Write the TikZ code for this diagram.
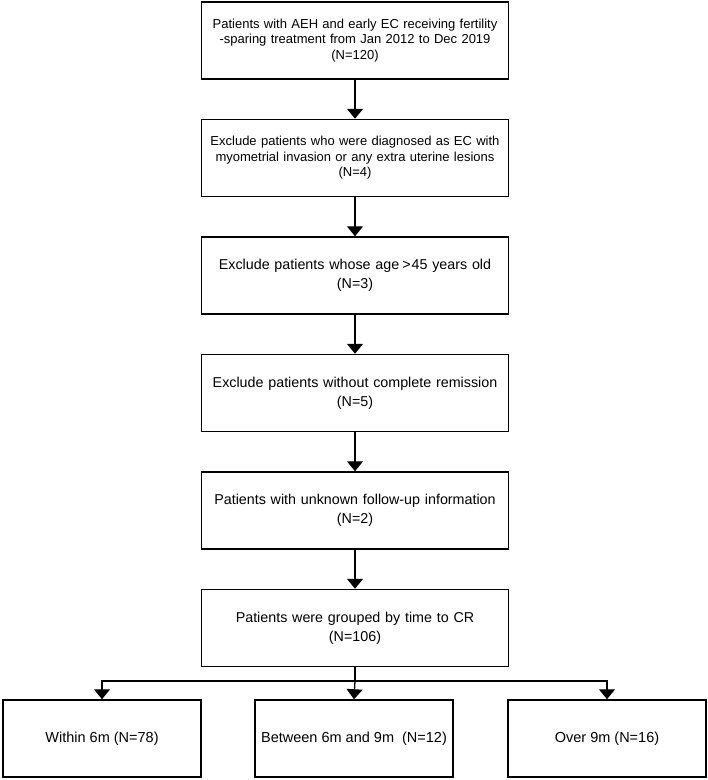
\documentclass[tikz,border=0pt]{standalone}
\usepackage{fontspec}
\setmainfont{Liberation Sans}
\usetikzlibrary{positioning,arrows.meta}
\tikzset{
  stagebox/.style={draw,line width=1.5pt,minimum width=306pt,minimum height=77pt,text width=300pt,align=center,font=\fontsize{13}{15.5}\selectfont},
  largetext/.style={font=\fontsize{14.3}{19}\selectfont},
  groupbox/.style={draw,line width=1.5pt,minimum width=198pt,minimum height=77pt,align=center,font=\fontsize{14.5}{19}\selectfont},
  flow/.style={line width=1.3pt,-{Triangle[width=16pt,length=10pt]}}
}
\begin{document}
\begin{tikzpicture}[x=1pt,y=1pt,node distance=39pt]
  \useasboundingbox (0,0) rectangle (708,-780);
  \node[stagebox] (total) at (355,-40.5) {Patients with AEH and early EC receiving fertility\\-sparing treatment from Jan 2012 to Dec 2019\\(N=120)};
  \node[stagebox,below=of total] (invasion) {Exclude patients who were diagnosed as EC with\\myometrial invasion or any extra uterine lesions\\(N=4)};
  \node[stagebox,largetext,below=of invasion] (age) {Exclude patients whose age\hspace{3pt}>\hspace{1pt}45 years old\\(N=3)};
  \node[stagebox,largetext,below=of age] (remission) {Exclude patients without complete remission\\(N=5)};
  \node[stagebox,largetext,below=of remission] (followup) {Patients with unknown follow-up information\\(N=2)};
  \node[stagebox,largetext,below=of followup] (grouped) {Patients were grouped by time to CR\\(N=106)};
  % three groups by time to CR
  \node[groupbox] (within) at (102,-738.5) {Within 6m (N=78)};
  \node[groupbox] (between) at (354,-738.5) {Between 6m and 9m\ \ (N=12)};
  \node[groupbox] (over) at (607,-738.5) {Over 9m (N=16)};
  \draw[flow] (total) -- (invasion);
  \draw[flow] (invasion) -- (age);
  \draw[flow] (age) -- (remission);
  \draw[flow] (remission) -- (followup);
  \draw[flow] (followup) -- (grouped);
  \coordinate (split) at (grouped.south |- 0,-681);
  \draw[line width=1.3pt] (grouped.south) -- (split);
  \draw[flow] (split) -- (between.north);
  \draw[flow] (split) -| (within.north);
  \draw[flow] (split) -| (over.north);
\end{tikzpicture}
\end{document}
